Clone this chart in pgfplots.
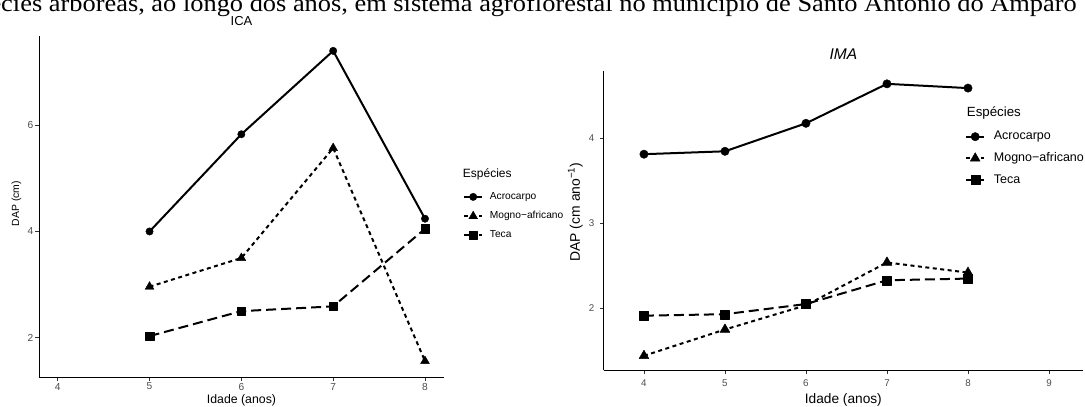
\documentclass[border=0pt]{standalone}
\usepackage{fontspec}
\setmainfont{Liberation Sans}
\newfontfamily\capfont{Liberation Serif}
\usepackage{graphicx}
\usepackage{pgfplots}
\pgfplotsset{compat=1.18}
\definecolor{grey30}{RGB}{77,77,77}
\definecolor{grey20}{RGB}{51,51,51}
\newcommand{\fs}[1]{\fontsize{#1}{#1}\selectfont}

\pgfplotsset{
 every axis title shift=0pt,
 ggstyle/.style={
  scale only axis, anchor=south west,
  axis x line*=bottom, axis y line*=left,
  axis line style={black, line width=0.9pt},
  tick align=outside, major tick length=3.5pt,
  tick style={grey20, line width=0.9pt},
  clip=false,
  legend cell align=left,
  legend image code/.code={\draw[mark repeat=2,mark phase=2] plot coordinates {(0pt,0pt)(9pt,0pt)(18pt,0pt)};},
 },
 acroL/.style={black, line width=2pt, line join=round, solid, mark=*, mark size=3.7pt, mark options={solid, line width=0.4pt}},
 mognoL/.style={black, line width=2pt, line join=round, dash pattern=on 4pt off 3.5pt, mark=triangle*, mark size=5.1pt, mark options={solid, line width=0.4pt}},
 tecaL/.style={black, line width=2pt, line join=round, dash pattern=on 10pt off 5pt, mark=square*, mark size=4.2pt, mark options={solid,line width=0.4pt}},
 acroR/.style={black, line width=2pt, line join=round, solid, mark=*, mark size=4.2pt, mark options={solid, line width=0.4pt}},
 mognoR/.style={black, line width=2pt, line join=round, dash pattern=on 4pt off 3.5pt, mark=triangle*, mark size=5.7pt, mark options={solid, line width=0.4pt}},
 tecaR/.style={black, line width=2pt, line join=round, dash pattern=on 10pt off 5pt, mark=square*, mark size=4.5pt, mark options={solid,line width=0.4pt}},
}

\begin{document}
\begin{tikzpicture}
\useasboundingbox (0,0) rectangle (1085pt,407pt);
\clip (0,0) rectangle (1085pt,407pt);

\node[anchor=base east, font=\capfont\fs{24}, inner sep=0pt] at (1077pt,395pt) {\scalebox{1.1}[1]{espécies arbóreas, ao longo dos anos, em sistema agroflorestal no município de Santo Antônio do Amparo}};

% ---------------- ICA ----------------
\begin{axis}[ggstyle, at={(39pt,29.3pt)}, width=405pt, height=341.7pt,
 xmin=3.796, xmax=8.207, ymin=1.247, ymax=7.68,
 xtick={4,5,6,7,8}, ytick={2,4,6},
 xticklabels={4,5,6,7,8},
 yticklabels={2,4,6},
 xticklabel style={font=\fs{10.2}, text=grey30, inner sep=0pt, anchor=center, yshift=-5.3pt},
 yticklabel style={font=\fs{10.2}, text=grey30, inner sep=0pt, anchor=center, xshift=-5pt},
 xlabel={Idade (anos)},
 xlabel style={font=\fs{12.3}, at={(axis description cs:0.5,-0.0673)}, anchor=center, inner sep=0pt},
 ylabel={DAP (cm)},
 ylabel style={font=\fs{10.4}, at={(axis description cs:-0.056,0.5098)}, anchor=center, inner sep=0pt},
 title={ICA},
 title style={font=\fs{13}, at={(axis description cs:0.5,1.0424)}, anchor=center, inner sep=0pt},
 legend style={at={(axis description cs:1.0469,0.5439)}, anchor=north west, draw=none, fill=none,
   inner sep=0pt, row sep=9.4pt, font=\fs{10.2},
   nodes={inner sep=0pt, text height=7.5pt, text depth=2.2pt},
   /tikz/every odd column/.append style={column sep=6.7pt}},
]
\addplot[acroL] coordinates {(5,4.00)(6,5.83)(7,7.40)(8,4.24)};
\addlegendentry{Acrocarpo}
\addplot[mognoL] coordinates {(5,2.96)(6,3.50)(7,5.57)(8,1.56)};
\addlegendentry{Mogno−africano}
\addplot[tecaL] coordinates {(5,2.03)(6,2.50)(7,2.59)(8,4.05)};
\addlegendentry{Teca}
\node[anchor=west, inner sep=0pt, font=\fs{12}] at (axis description cs:1.0462,0.5961) {Espécies};
\end{axis}

% ---------------- IMA ----------------
\begin{axis}[ggstyle, at={(603.7pt,36.7pt)}, width=479.3pt, height=299.6pt,
 xmin=3.503, xmax=9.42, ymin=1.269, ymax=4.80,
 xtick={4,5,6,7,8,9}, ytick={2,3,4},
 xticklabels={4,5,6,7,8,9},
 yticklabels={2,3,4},
 xticklabel style={font=\fs{9.8}, text=grey30, inner sep=0pt, anchor=center, yshift=-9.5pt},
 yticklabel style={font=\fs{9.8}, text=grey30, inner sep=0pt, anchor=center, xshift=-8.5pt},
 xlabel={Idade (anos)},
 xlabel style={font=\fs{13.7}, at={(axis description cs:0.5,-0.099)}, anchor=center, inner sep=0pt},
 ylabel={DAP (cm ano\textsuperscript{−1})},
 ylabel style={font=\fs{13.9}, at={(axis description cs:-0.0593,0.5284)}, anchor=center, inner sep=0pt},
 title={\itshape IMA},
 title style={font=\fs{15.5}, at={(axis description cs:0.5,1.0557)}, anchor=center, inner sep=0pt},
 legend style={at={(axis description cs:0.7538,0.800)}, anchor=north west, draw=none, fill=none,
   inner sep=0pt, row sep=10pt, font=\fs{12.5},
   nodes={inner sep=0pt, text height=9.1pt, text depth=2.6pt},
   /tikz/every odd column/.append style={column sep=8.7pt}},
]
\addplot[acroR] coordinates {(4,3.816)(5,3.85)(6,4.18)(7,4.645)(8,4.595)};
\addlegendentry{Acrocarpo}
\addplot[mognoR] coordinates {(4,1.44)(5,1.75)(6,2.035)(7,2.54)(8,2.42)};
\addlegendentry{Mogno−africano}
\addplot[tecaR] coordinates {(4,1.913)(5,1.93)(6,2.05)(7,2.33)(8,2.35)};
\addlegendentry{Teca}
\node[anchor=west, inner sep=0pt, font=\fs{13.3}] at (axis description cs:0.7574,0.860) {Espécies};
\end{axis}
\end{tikzpicture}
\end{document}
